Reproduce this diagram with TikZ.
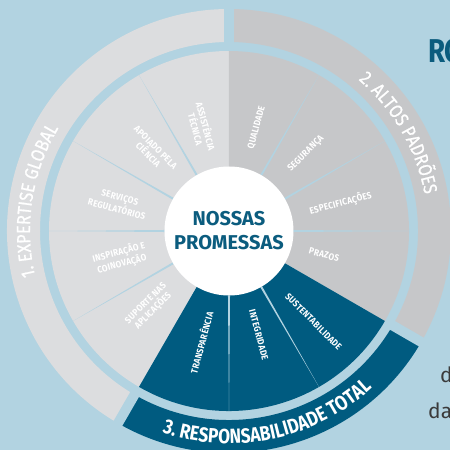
\documentclass[tikz,border=0pt]{standalone}
\usepackage{fontspec}
\setmainfont{Fira Sans}
\newfontfamily\bandfont[FakeStretch=0.86,FakeBold=0.8]{Fira Sans}
\newfontfamily\bandboldfont[FakeStretch=0.84]{Fira Sans Bold}
\newfontfamily\labelfont[FakeStretch=0.88,LetterSpace=3]{Fira Sans Bold}
\usepackage{tikz}
\usetikzlibrary{decorations.text}
\usetikzlibrary{calc}

\definecolor{bgblue}{HTML}{B2D3E1}
\definecolor{greyone}{HTML}{DCDDDF}
\definecolor{greytwo}{HTML}{C6C7C9}
\definecolor{darkblue}{HTML}{005B80}
\definecolor{titleblue}{HTML}{0B5C7E}
\definecolor{textgrey}{HTML}{3A3A3A}

\newcommand\bandstyle{\bandfont\fontsize{19}{22}\selectfont\color{white}}
\newcommand\bandboldstyle{\bandboldfont\fontsize{20.5}{22}\selectfont\color{white}}

\tikzset{
    wedgelabel/.style={text=white, font=\labelfont\fontsize{9.3}{10.5}\selectfont, align=center, inner sep=0pt},
    hub/.style={circle, fill=white, minimum size=129pt, inner sep=0pt, align=center, text=titleblue, font=\bfseries\fontsize{20}{24}\selectfont},
}

\begin{document}
\begin{tikzpicture}[x=1pt,y=1pt]
    \def\rhub{64.5}
    \def\rring{180}
    \def\rbandin{189}
    \def\rbandout{222}
    \def\rtext{199}
    \def\rtextout{212.5}
    \def\gap{10}

    \coordinate (CENTER) at (0,0);

    % Background
    \fill[bgblue] (-229,-219) rectangle (221,231);
    \useasboundingbox (-229,-219) rectangle (221,231);
    \clip (-229,-219) rectangle (221,231);

    % Inner Ring
    \fill[greyone] (CENTER) -- (90:\rring) arc[start angle=90, end angle=240, radius=\rring] -- cycle;
    \fill[greytwo] (CENTER) -- (-30:\rring) arc[start angle=-30, end angle=90, radius=\rring] -- cycle;
    \fill[darkblue] (CENTER) -- (-120:\rring) arc[start angle=-120, end angle=-30, radius=\rring] -- cycle;

    % Outer Bands
    \fill[greyone] (90:\rbandin) arc[start angle=90, end angle=240, radius=\rbandin] -- (240:\rbandout) arc[start angle=240, end angle=90, radius=\rbandout] -- cycle;
    \fill[greytwo] (-30:\rbandin) arc[start angle=-30, end angle=90, radius=\rbandin] -- (90:\rbandout) arc[start angle=90, end angle=-30, radius=\rbandout] -- cycle;
    \fill[darkblue] (-120:\rbandin) arc[start angle=-120, end angle=-30, radius=\rbandin] -- (-30:\rbandout) arc[start angle=-30, end angle=-120, radius=\rbandout] -- cycle;

    % Gaps between bands
    \draw[bgblue, line width=\gap] (90:185) -- (90:240);
    \draw[bgblue, line width=\gap] (240:185) -- (240:240);
    \draw[bgblue, line width=\gap] (-30:185) -- (-30:240);

    % Dividers
    \fill[bgblue] (119.1:\rhub) -- (120:\rring) -- (120.9:\rhub) -- cycle;
    \fill[bgblue] (149.1:\rhub) -- (150:\rring) -- (150.9:\rhub) -- cycle;
    \fill[bgblue] (179.1:\rhub) -- (180:\rring) -- (180.9:\rhub) -- cycle;
    \fill[bgblue] (209.1:\rhub) -- (210:\rring) -- (210.9:\rhub) -- cycle;
    \fill[bgblue] (59.1:\rhub) -- (60:\rring) -- (60.9:\rhub) -- cycle;
    \fill[bgblue] (29.1:\rhub) -- (30:\rring) -- (30.9:\rhub) -- cycle;
    \fill[bgblue] (-0.9:\rhub) -- (0:\rring) -- (0.9:\rhub) -- cycle;
    \fill[bgblue] (-60.9:\rhub) -- (-60:\rring) -- (-59.1:\rhub) -- cycle;
    \fill[bgblue] (-90.9:\rhub) -- (-90:\rring) -- (-89.1:\rhub) -- cycle;

    % Hub
    \node[hub] (HUB) at (CENTER) {NOSSAS\\PROMESSAS};

    % Labels 1
    \node[wedgelabel, rotate=-75] (ASSIST) at (105:107) {ASSISTÊNCIA\\TÉCNICA};
    \node[wedgelabel, rotate=-45] (APOIO) at (134:111) {APOIADO PELA\\CIÊNCIA};
    \node[wedgelabel, rotate=-15] (SERV) at (166:114) {SERVIÇOS\\REGULATÓRIOS};
    \node[wedgelabel, rotate=15] (INSP) at (194:112) {INSPIRAÇÃO E\\COINOVAÇÃO};
    \node[wedgelabel, rotate=45] (SUPORTE) at (224:110) {SUPORTE NAS\\APLICAÇÕES};

    % Labels 2
    \node[wedgelabel, rotate=75] (QUAL) at (75:107) {QUALIDADE};
    \node[wedgelabel, rotate=45] (SEG) at (45:109) {SEGURANÇA};
    \node[wedgelabel, rotate=15] (ESPEC) at (14:115) {ESPECIFICAÇÕES};
    \node[wedgelabel, rotate=-15] (PRAZOS) at (-14:98) {PRAZOS};

    % Labels 3
    \node[wedgelabel, rotate=75] (TRANSP) at (-104:115) {TRANSPARÊNCIA};
    \node[wedgelabel, rotate=-75] (INTEG) at (-74:108) {INTEGRIDADE};
    \node[wedgelabel, rotate=-45] (SUST) at (-47:124) {SUSTENTABILIDADE};

    % Band Titles
    \path[decorate, decoration={text along path, text align=center, text={|\bandstyle|1. EXPERTISE GLOBAL}}]
        (200:\rtext) arc[start angle=200, end angle=142, radius=\rtext];
    \path[decorate, decoration={text along path, text align=center, text={|\bandstyle|2. ALTOS PADRÕES}}]
        (60:\rtext) arc[start angle=60, end angle=0, radius=\rtext];
    \path[decorate, decoration={text along path, text align=center, text={|\bandboldstyle|3. RESPONSABILIDADE TOTAL}}]
        (-112:\rtextout) arc[start angle=-112, end angle=-44, radius=\rtextout];

    % Side Text
    \node[anchor=base west, inner sep=0pt, text=titleblue, font=\bandboldfont\fontsize{33}{33}\selectfont] (HEAD) at (199,168) {RO};
    \node[anchor=base west, inner sep=0pt, text=textgrey, font=\fontsize{21}{21}\selectfont] (LINEA) at (211,-151) {d};
    \node[anchor=base west, inner sep=0pt, text=textgrey, font=\fontsize{21}{21}\selectfont] (LINEB) at (199,-187) {da};
\end{tikzpicture}
\end{document}
